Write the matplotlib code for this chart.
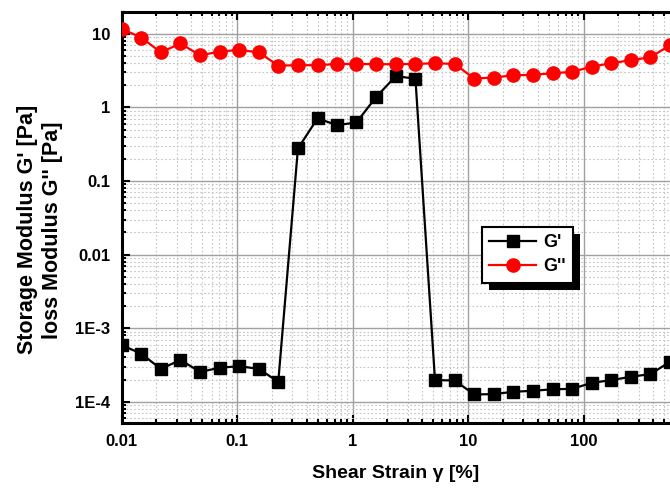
import matplotlib
matplotlib.use("Agg")
import matplotlib.pyplot as plt
from matplotlib.ticker import LogLocator, NullFormatter
from matplotlib.patches import Rectangle

plt.rcParams['font.family'] = ['Liberation Sans', 'DejaVu Sans']
plt.rcParams['font.weight'] = 'bold'

strain = [0.01, 0.0148, 0.0218, 0.0323, 0.0477, 0.0705, 0.104, 0.154, 0.227, 0.336,
          0.497, 0.734, 1.08, 1.60, 2.37, 3.50, 5.17, 7.64, 11.3, 16.7,
          24.7, 36.4, 53.9, 79.6, 118, 174, 257, 380, 561]
g_storage = [5.9e-4, 4.5e-4, 2.8e-4, 3.7e-4, 2.55e-4, 2.9e-4, 3.05e-4, 2.8e-4, 1.87e-4, 0.277,
             0.71, 0.574, 0.625, 1.39, 2.67, 2.45, 1.97e-4, 1.95e-4, 1.26e-4, 1.27e-4,
             1.37e-4, 1.41e-4, 1.48e-4, 1.50e-4, 1.81e-4, 1.97e-4, 2.19e-4, 2.38e-4, 3.5e-4]
g_loss = [11.7, 8.9, 5.6, 7.4, 5.1, 5.75, 6.05, 5.6, 3.7, 3.75,
          3.75, 3.9, 3.9, 3.87, 3.87, 3.9, 3.99, 3.9, 2.47, 2.55,
          2.74, 2.77, 2.92, 3.04, 3.59, 3.99, 4.39, 4.82, 7.0]

y_ticks = [1e-4, 1e-3, 0.01, 0.1, 1, 10]
y_tick_labels = ['1E-4', '1E-3', '0.01', '0.1', '1', '10']
x_ticks = [0.01, 0.1, 1, 10, 100]
x_tick_labels = ['0.01', '0.1', '1', '10', '100']

fig = plt.figure(figsize=(6.70, 4.88), dpi=100)
ax = fig.add_axes([121.7 / 670, 65.3 / 488, 1 - 121.7 / 670, (422.7 - 11.7) / 488])

ax.plot(strain, g_storage, color='black', marker='s', markersize=8, linewidth=1.6,
        label="G'", zorder=3)
ax.plot(strain, g_loss, color='#ff0000', marker='o', markersize=9.5, linewidth=1.6,
        label="G''", zorder=3)

ax.set_xscale('log')
ax.set_yscale('log')
ax.set_xlim(0.01, 561)
ax.set_ylim(5.2e-5, 20)

ax.set_xticks(x_ticks)
ax.set_xticklabels(x_tick_labels)
ax.set_yticks(y_ticks)
ax.set_yticklabels(y_tick_labels)
ax.xaxis.set_minor_locator(LogLocator(base=10, subs=range(2, 10), numticks=20))
ax.yaxis.set_minor_locator(LogLocator(base=10, subs=range(2, 10), numticks=20))
ax.xaxis.set_minor_formatter(NullFormatter())
ax.yaxis.set_minor_formatter(NullFormatter())

ax.tick_params(which='both', direction='in', top=True, right=False, width=1.5)
ax.tick_params(which='major', length=6, labelsize=12, pad=8)
ax.tick_params(which='minor', length=3)
for lab in ax.get_xticklabels() + ax.get_yticklabels():
    lab.set_fontweight('bold')

ax.grid(which='major', color='#a0a0a0', linestyle='-', linewidth=1.0, zorder=0)
ax.grid(which='minor', color='#c4c4c4', linestyle=(0, (1.5, 2)), linewidth=0.8, zorder=0)
ax.set_axisbelow(True)

for s in ['left', 'bottom', 'top']:
    ax.spines[s].set_linewidth(2.2)
ax.spines['right'].set_visible(False)

ax.set_xlabel('Shear Strain γ [%]', fontsize=14, fontweight='bold', labelpad=12)
fig.text(0.059, 0.529, "Storage Modulus G' [Pa]\nloss Modulus G'' [Pa]", rotation=90,
         ha='center', va='center', multialignment='center', fontsize=15.5,
         fontweight='bold', linespacing=1.25)

leg = ax.legend(loc='upper left', bbox_to_anchor=(482 / 670, 1 - 227 / 488),
                bbox_transform=fig.transFigure, fancybox=False, framealpha=1,
                edgecolor='black', prop={'size': 13, 'weight': 'bold'},
                handlelength=2.6, borderpad=0.4, labelspacing=0.4, handletextpad=0.4,
                borderaxespad=0)
leg.get_frame().set_linewidth(1.5)
leg.set_zorder(6)

fig.canvas.draw()
bb = leg.get_window_extent()
inv = ax.transAxes.inverted()
(x0, y0), (x1, y1) = inv.transform([[bb.x0 + 7, bb.y0 - 7], [bb.x1 + 7, bb.y1 - 7]])
ax.add_patch(Rectangle((x0, y0), x1 - x0, y1 - y0, transform=ax.transAxes,
                       facecolor='black', edgecolor='none', zorder=5.5, clip_on=False))

fig.savefig('out.png', dpi=100)
